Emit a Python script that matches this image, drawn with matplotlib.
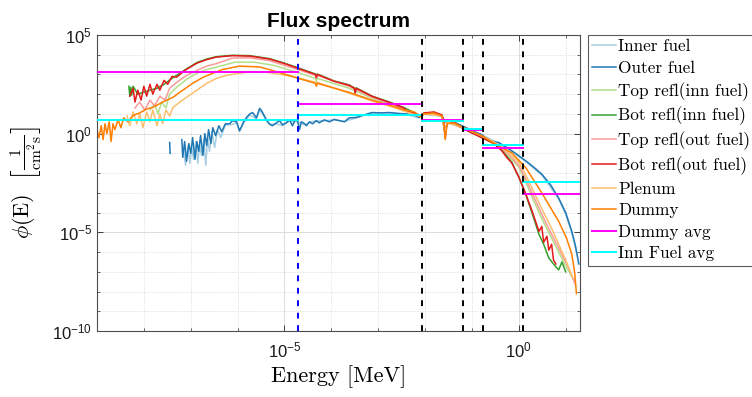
import numpy as np
import matplotlib
matplotlib.use('Agg')
import matplotlib.pyplot as plt
from matplotlib.ticker import FixedLocator, NullFormatter, LogFormatterSciNotation

plt.rcParams['font.family'] = ['Liberation Sans', 'DejaVu Sans']
plt.rcParams['mathtext.fontset'] = 'cm'
plt.rcParams['axes.unicode_minus'] = False

# ---------------- data (log10 E [MeV], log10 flux) ----------------
inner_logE = [-7.15, -7.11, -7.06, -7.02, -6.98, -6.94, -6.89, -6.85, -6.81, -6.77, -6.72, -6.68, -6.64, -6.60,
              -6.55, -6.49, -6.43, -6.36, -6.26, -6.13, -6.02, -5.96, -5.87, -5.74, -5.60, -5.53, -5.43, -5.32,
              -5.17, -5.04, -4.89, -4.72, -4.57, -4.40, -4.15, -3.94, -3.72, -3.47, -3.13, -2.77, -2.40, -2.13,
              -2.02, -1.64, -1.57, -1.49, -1.21, -0.79, -0.43, -0.21, 0.15, 0.49, 0.85, 1.00, 1.13, 1.25]
inner_logphi = [-0.9, -1.6, -0.6, -1.5, -0.7, -1.3, -0.4, -1.5, -0.6, -1.1, -0.3, -1.6, -0.2, -0.9,
                0.1, -0.7, 0.2, -0.2, 0.45, 0.45, 0.55, 0.1, 0.55, 0.95, 0.75, 1.2, 0.85, 0.45,
                0.5, 0.4, 0.65, 0.6, 0.45, 0.62, 0.65, 0.7, 0.62, 0.8, 1.05, 1.05, 0.98, 0.8,
                0.98, 0.88, 0.58, 0.68, 0.38, -0.07, -0.48, -0.8, -1.42, -2.1, -3.3, -4.1, -5.0, -6.2]

outer_logE = [-7.45, -7.44, np.nan, -7.19, -7.17, -7.13, -7.09, -7.04, -7.00, -6.96, -6.91, -6.87, -6.83, -6.79,
              -6.74, -6.70, -6.66, -6.62, -6.57, -6.53, -6.47, -6.40, -6.34, -6.26, -6.17, -6.11, -6.02, -5.96,
              -5.87, -5.81, -5.74, -5.68, -5.60, -5.53, -5.49, -5.43, -5.38, -5.32, -5.26, -5.17, -5.11, -5.04,
              -4.96, -4.89, -4.83, -4.77, -4.72, -4.68, -4.64, -4.57, -4.53, -4.47, -4.40, -4.32, -4.26, -4.15,
              -4.04, -3.94, -3.83, -3.72, -3.62, -3.47, -3.30, -3.13, -2.94, -2.77, -2.55, -2.40, -2.23, -2.13,
              -2.02, -1.81, -1.64, -1.57, -1.49, -1.21, -1.00, -0.79, -0.64, -0.43, -0.21, -0.04, 0.15, 0.32,
              0.49, 0.68, 0.85, 1.00, 1.13, 1.21, 1.28]
outer_logphi = [-0.45, -1.0, np.nan, -0.3, -1.2, -0.4, -1.4, -0.5, -1.0, -0.2, -1.3, -0.4, -0.9, -0.1,
                -1.1, 0.0, -0.6, 0.2, -0.5, 0.3, -0.1, 0.4, 0.1, 0.5, 0.5, 0.66, 0.6, 0.15,
                0.6, 0.82, 1.0, 1.07, 0.8, 1.28, 1.17, 0.9, 0.66, 0.5, 0.4, 0.55, 0.66, 0.45,
                0.56, 0.7, 0.4, 0.7, 0.66, 0.2, 0.6, 0.5, 0.4, 0.6, 0.5, 0.66, 0.55, 0.7,
                0.6, 0.72, 0.66, 0.6, 0.8, 0.82, 0.95, 1.07, 1.05, 1.07, 1.02, 1.0, 0.95, 0.82,
                1.0, 1.02, 0.9, 0.6, 0.7, 0.4, 0.15, -0.05, -0.36, -0.45, -0.77, -1.05, -1.38, -1.7,
                -2.05, -2.6, -3.26, -4.0, -4.95, -5.7, -6.6]

top_inn_logE = [-7.87, -7.77, -7.70, -7.62, -7.53, -7.45, -7.30, -7.09, -6.87, -6.66, -6.45, -6.06, -5.64,
                -5.21, -4.72, -4.34, -4.32, -4.30, -3.62, -3.13, -2.70, -2.09, -2.02, -1.64, -1.57, -1.53,
                -1.21, -0.79, -0.53, -0.36, -0.15, 0.00, 0.15, 0.28, 0.49, 0.70, 0.85, 1.00, 1.17]
top_inn_logphi = [1.2, 1.5, 1.0, 1.6, 1.3, 2.0, 2.35, 2.75, 3.06, 3.25, 3.37, 3.62, 3.62,
                  3.45, 3.1, 2.8, 2.65, 2.8, 2.3, 1.8, 1.45, 0.86, 1.02, 0.92, 0.1, 0.6,
                  0.3, -0.17, -0.47, -0.8, -1.3, -1.7, -2.45, -3.2, -4.3, -5.3, -6.0, -6.7, -7.4]

bot_inn_logE = [-8.32, -8.30, -8.28, -8.26, -8.23, -8.13, -8.00, -7.87, -7.72, -7.57, -7.40, -7.13, -6.87,
                -6.66, -6.45, -6.11, -5.74, -5.32, -5.00, -4.72, -4.34, -4.32, -4.30, -3.94, -3.62, -3.51,
                -3.49, -3.47, -3.13, -2.70, -2.45, -2.09, -2.02, -1.64, -1.57, -1.53, -1.21, -0.79, -0.53,
                -0.36, -0.15, 0.00, 0.15, 0.28, 0.43, 0.53, 0.64, 0.74, 0.85, 0.92, 1.00]
bot_inn_logphi = [2.4, 1.9, 2.35, 1.95, 2.4, 2.0, 2.1, 2.2, 2.3, 2.5, 2.8, 3.22, 3.6,
                  3.78, 3.9, 3.97, 3.95, 3.8, 3.57, 3.34, 3.02, 2.87, 3.02, 2.67, 2.47, 2.32,
                  2.07, 2.32, 1.9, 1.55, 1.32, 0.9, 1.05, 0.95, -0.1, 0.6, 0.3, -0.2, -0.5,
                  -0.85, -1.45, -2.2, -3.1, -4.0, -5.1, -5.6, -6.3, -6.6, -6.9, -6.5, -7.0]

top_out_logE = [-8.19, -8.09, -7.98, -7.87, -7.77, -7.66, -7.55, -7.45, -7.30, -7.09, -6.87, -6.66, -6.45,
                -6.11, -5.74, -5.32, -4.72, -4.34, -4.32, -4.30, -3.62, -3.13, -2.70, -2.09, -2.02, -1.64,
                -1.57, -1.53, -1.21, -0.79, -0.53, -0.36, -0.15, 0.00, 0.15, 0.28, 0.49, 0.70, 0.85, 1.06, 1.21]
top_out_logphi = [1.3, 1.6, 1.2, 1.7, 1.4, 1.9, 1.7, 2.3, 2.6, 2.95, 3.2, 3.42, 3.55,
                  3.83, 3.84, 3.7, 3.25, 2.95, 2.8, 2.95, 2.4, 1.85, 1.5, 0.87, 1.03, 0.93,
                  0.0, 0.6, 0.3, -0.15, -0.45, -0.75, -1.22, -1.6, -2.3, -3.0, -4.08, -5.1, -5.8, -6.8, -7.65]

bot_out_logE = [-8.30, -8.23, -8.19, -8.13, -8.06, -8.00, -7.94, -7.87, -7.81, -7.72, -7.66, -7.57, -7.49,
                -7.40, -7.30, -7.13, -6.87, -6.66, -6.45, -6.11, -5.74, -5.32, -5.00, -4.72, -4.34, -4.32,
                -4.30, -3.94, -3.62, -3.51, -3.49, -3.47, -3.13, -2.70, -2.45, -2.40, -2.23, -2.09, -2.02,
                -1.81, -1.64, -1.60, -1.57, -1.53, -1.38, -1.21, -1.06, -0.79, -0.53, -0.36, -0.26, -0.15,
                0.00, 0.15, 0.28, 0.38, 0.43, 0.49, 0.53, 0.60, 0.64, 0.70, 0.74, 0.79]
bot_out_logphi = [1.9, 2.3, 1.6, 2.2, 1.7, 2.4, 1.9, 2.5, 2.0, 2.5, 2.2, 2.7, 2.5,
                  2.9, 2.86, 3.2, 3.57, 3.75, 3.88, 3.95, 3.93, 3.78, 3.55, 3.32, 3.0, 2.85,
                  3.0, 2.65, 2.45, 2.3, 2.05, 2.3, 1.89, 1.53, 1.3, 1.17, 1.05, 0.87, 1.05,
                  1.1, 0.95, 0.6, -0.2, 0.6, 0.55, 0.3, 0.1, -0.2, -0.5, -0.87, -1.2, -1.48,
                  -2.2, -3.06, -3.9, -4.6, -4.95, -4.7, -5.5, -5.2, -5.9, -5.6, -6.4, -6.6]

plenum_logE = [-8.36, -8.30, -8.23, -8.15, -8.09, -8.02, -7.94, -7.87, -7.81, -7.72, -7.66, -7.60, -7.53,
               -7.45, -7.38, -7.23, -7.09, -6.87, -6.66, -6.45, -6.23, -5.81, -5.38, -4.83, -4.34, -4.32,
               -4.30, -3.62, -3.13, -2.70, -2.09, -2.02, -1.64, -1.57, -1.53, -1.21, -0.79, -0.53, -0.36,
               -0.15, 0.00, 0.15, 0.28, 0.49, 0.70, 0.85, 1.00, 1.15]
plenum_logphi = [0.9, 0.4, 1.1, 0.5, 1.0, 0.3, 1.1, 0.6, 1.2, 0.4, 1.0, 0.5, 1.2,
                 0.9, 1.33, 1.6, 1.84, 2.2, 2.55, 2.8, 2.96, 3.11, 3.11, 2.9, 2.6, 2.45,
                 2.6, 2.05, 1.65, 1.35, 0.85, 1.0, 0.9, 0.05, 0.6, 0.32, -0.12, -0.42, -0.68,
                 -1.1, -1.45, -2.1, -2.75, -3.8, -4.8, -5.6, -6.4, -7.3]

dummy_logE = [-9.00, -8.96, -8.91, -8.87, -8.83, -8.79, -8.74, -8.70, -8.66, -8.62, -8.55, -8.49, -8.43,
              -8.34, -8.23, -8.09, -7.94, -7.81, -7.60, -7.38, -7.17, -6.96, -6.74, -6.53, -6.32, -5.96,
              -5.53, -5.11, -4.72, -4.34, -4.32, -4.30, -3.62, -3.13, -2.70, -2.45, -2.23, -2.09, -2.02,
              -1.81, -1.64, -1.60, -1.57, -1.53, -1.38, -1.21, -1.00, -0.79, -0.57, -0.36, -0.15, 0.15,
              0.49, 0.85, 1.02, 1.13, 1.19, 1.23]
dummy_logphi = [0.2, -0.2, 0.4, -0.3, 0.5, 0.0, 0.6, -0.4, 0.5, 0.2, 0.7, 0.3, 0.8,
                0.6, 0.92, 1.05, 1.25, 1.33, 1.6, 1.84, 2.2, 2.55, 2.85, 3.06, 3.25, 3.42,
                3.38, 3.1, 2.81, 2.55, 2.4, 2.55, 2.09, 1.7, 1.4, 1.2, 1.1, 0.85, 1.0,
                1.05, 0.9, 0.5, -0.3, 0.5, 0.55, 0.35, 0.1, -0.1, -0.43, -0.71, -0.97, -1.73,
                -3.0, -4.44, -5.3, -6.1, -7.0, -8.1]

# group structure (MeV) and group-averaged fluxes
group_edges = [1e-9, 1.9e-5, 8.7e-3, 6.5e-2, 1.7e-1, 1.22, 20.0]
dummy_avg = [1.26e3, 30.0, 5.0, 1.55, 0.19, 8.3e-4]
inn_fuel_avg = [5.1, 9.3, 4.6, 1.8, 0.28, 3.5e-3]
thermal_cut = 1.9e-5
group_cuts = [8.7e-3, 6.5e-2, 1.7e-1, 1.22]

series = [
    ('Inner fuel', inner_logE, inner_logphi, '#a6cee3'),
    ('Outer fuel', outer_logE, outer_logphi, '#1f78b4'),
    ('Top refl(inn fuel)', top_inn_logE, top_inn_logphi, '#b2df8a'),
    ('Bot refl(inn fuel)', bot_inn_logE, bot_inn_logphi, '#33a02c'),
    ('Top refl(out fuel)', top_out_logE, top_out_logphi, '#fb9a99'),
    ('Bot refl(out fuel)', bot_out_logE, bot_out_logphi, '#e31a1c'),
    ('Plenum', plenum_logE, plenum_logphi, '#fdbf6f'),
    ('Dummy', dummy_logE, dummy_logphi, '#ff7f00'),
]

# ---------------- figure ----------------
fig = plt.figure(figsize=(7.52, 3.97), dpi=100)
ax = fig.add_axes([0.129, 0.166, 0.642, 0.746])
ax.set_xscale('log')
ax.set_yscale('log')

handles = []
for label, lx, ly, col in series:
    h, = ax.plot(np.power(10.0, np.array(lx, dtype=float)), np.power(10.0, np.array(ly, dtype=float)),
                 color=col, lw=1.1, label=label)
    handles.append(h)


def step_xy(edges, vals):
    xs, ys = [], []
    for i, v in enumerate(vals):
        xs += [edges[i], edges[i + 1], np.nan]
        ys += [v, v, np.nan]
    return xs, ys


sx, sy = step_xy(group_edges, dummy_avg)
h, = ax.plot(sx, sy, color='#ff00ff', lw=1.4, label='Dummy avg', zorder=3)
handles.append(h)
sx, sy = step_xy(group_edges, inn_fuel_avg)
h, = ax.plot(sx, sy, color='#00ffff', lw=1.4, label='Inn Fuel avg', zorder=3)
handles.append(h)

dash = (0, (3.0, 3.4))
ax.axvline(thermal_cut, color='#0000ff', lw=1.4, ls=dash, zorder=4)
for c in group_cuts:
    ax.axvline(c, color='black', lw=1.4, ls=dash, zorder=4)

ax.set_xlim(1e-9, 20)
ax.set_ylim(1e-10, 1e5)

ax.xaxis.set_major_locator(FixedLocator([1e-5, 1e0]))
ax.xaxis.set_minor_locator(FixedLocator([10.0 ** k for k in range(-9, 2)]))
ax.yaxis.set_major_locator(FixedLocator([1e-10, 1e-5, 1e0, 1e5]))
ax.yaxis.set_minor_locator(FixedLocator([10.0 ** k for k in range(-10, 6)]))
ax.xaxis.set_major_formatter(LogFormatterSciNotation())
ax.yaxis.set_major_formatter(LogFormatterSciNotation())
ax.xaxis.set_minor_formatter(NullFormatter())
ax.yaxis.set_minor_formatter(NullFormatter())

ax.grid(True, which='major', color='#dcdcdc', lw=0.7, ls='-')
ax.grid(True, which='minor', color='#cfcfcf', lw=0.6, ls=(0, (1, 2)))
ax.set_axisbelow(True)

ax.tick_params(which='both', direction='in', top=True, right=True, colors='#262626',
               labelsize=12, labelcolor='#1a1a1a')
ax.tick_params(which='major', length=4, width=0.6)
ax.tick_params(which='minor', length=2.5, width=0.5)
ax.tick_params(axis='x', pad=7)
for s in ax.spines.values():
    s.set_color('#4d4d4d')
    s.set_linewidth(0.8)

ax.set_title('Flux spectrum', fontsize=15, fontweight='bold', pad=6)
ax.set_xlabel('Energy [MeV]', family='cmr10', fontsize=16, labelpad=3)
ax.set_ylabel(r'$\phi(\mathrm{E})\ \ \left[\frac{1}{\mathrm{cm}^2\mathrm{s}}\right]$', fontsize=16, labelpad=6)

leg = fig.legend(handles=handles, loc='upper left', bbox_to_anchor=(0.782, 0.913),
                 prop={'family': 'cmr10', 'size': 12.4}, frameon=True, fancybox=False,
                 borderpad=0.25, handlelength=1.4, handletextpad=0.1, labelspacing=0.36,
                 borderaxespad=0)
leg.get_frame().set_edgecolor('#333333')
leg.get_frame().set_linewidth(0.8)

fig.savefig('out.png', dpi=100)
